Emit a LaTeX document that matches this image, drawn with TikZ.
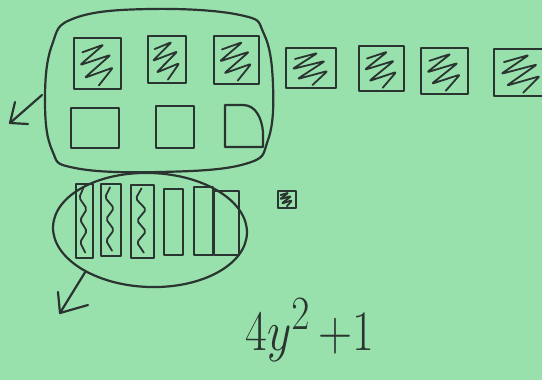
\documentclass[tikz,border=0pt]{standalone}
\usepackage{amsmath}
\usepackage{tikz}
\usetikzlibrary{shapes.geometric}

\definecolor{paper}{RGB}{152,225,172}
\definecolor{ink}{RGB}{42,52,48}

\begin{document}
\begin{tikzpicture}[x=1pt,y=-1pt,line cap=round,line join=round]
\tikzset{
  pen/.style={draw=ink, line width=2.2pt},
  scrib/.style={draw=ink, line width=1.8pt, rounded corners=2pt},
  tile/.style={pen, rectangle, inner sep=0pt, anchor=north west}
}
\fill[paper] (0,0) rectangle (542,380);
\useasboundingbox (0,0) rectangle (542,380);
\clip (0,0) rectangle (542,380);

    % Shaded tiles (y^2 pieces)
    \foreach \x/\y/\w/\h/\n in {73/37/47/51/a1, 147/35/38/47/a2, 213/35/45/48/a3,
        285/47/50/40/c1, 358/45/45/45/c2, 420/47/47/46/c3, 493/48/55/47/c4, 277/190/18/17/s1}{
        \node[tile, minimum width=\w pt, minimum height=\h pt] (\n) at (\x,\y) {};
        \begin{scope}[shift={(\n.north west)}, x=\w pt, y=-\h pt]
            \draw[scrib] (0.2,0.3) -- (0.65,0.15) -- (0.15,0.55) -- (0.8,0.35)
                -- (0.25,0.8) -- (0.85,0.6) -- (0.55,0.95);
        \end{scope}
    }

    % Empty tiles
    \foreach \x/\y/\w/\h/\n in {70/107/48/40/b1, 155/105/38/42/b2}{
        \node[tile, minimum width=\w pt, minimum height=\h pt] (\n) at (\x,\y) {};
    }
    \draw[pen] (225,105) -- (243,105) to[out=0,in=95] (263,132) -- (263,147) -- (225,147) -- cycle;

    % Strips (y pieces)
    \foreach \x/\y/\w/\h/\n in {75/183/17/74/v1, 100/183/20/72/v2, 130/184/23/73/v3}{
        \node[tile, minimum width=\w pt, minimum height=\h pt] (\n) at (\x,\y) {};
        \begin{scope}[shift={(\n.north west)}, x=\w pt, y=-\h pt]
            \draw[scrib] (0.5,0.06) -- (0.25,0.2) -- (0.7,0.35) -- (0.3,0.5)
                -- (0.7,0.65) -- (0.3,0.8) -- (0.6,0.94);
        \end{scope}
    }
    \foreach \x/\y/\w/\h/\n in {163/188/19/66/v4, 193/186/19/68/v5, 213/190/25/64/v6}{
        \node[tile, minimum width=\w pt, minimum height=\h pt] (\n) at (\x,\y) {};
    }

    % Loop round the top group
    \draw[pen] plot[smooth cycle, tension=0.7] coordinates {(75,18) (150,9) (240,15) (264,34)
        (273,85) (268,140) (245,164) (160,172) (75,168) (52,150) (45,100) (52,45)};
    \coordinate (topTail) at (42,95);
    \coordinate (topTip) at (10,123);
    \draw[pen] (topTail) -- (topTip);
    \draw[pen] (topTip) ++(5,-21) -- (topTip) -- ++(18,1);

    % Loop round the strips
    \node[pen, ellipse, minimum width=194pt, minimum height=114pt, rotate=-2] (loopB) at (150,230) {};
    \coordinate (botTip) at (60,313);
    \draw[pen] (loopB.215) -- (botTip);
    \draw[pen] (botTip) ++(-2,-21) -- (botTip) -- ++(28,-8);

    % Expression
    \node[text=ink, anchor=base west, font=\Huge, xscale=1.9, yscale=2.3, inner sep=0pt] (expr) at (245,350) {$4y^2\,{+}1$};

\end{tikzpicture}
\end{document}
